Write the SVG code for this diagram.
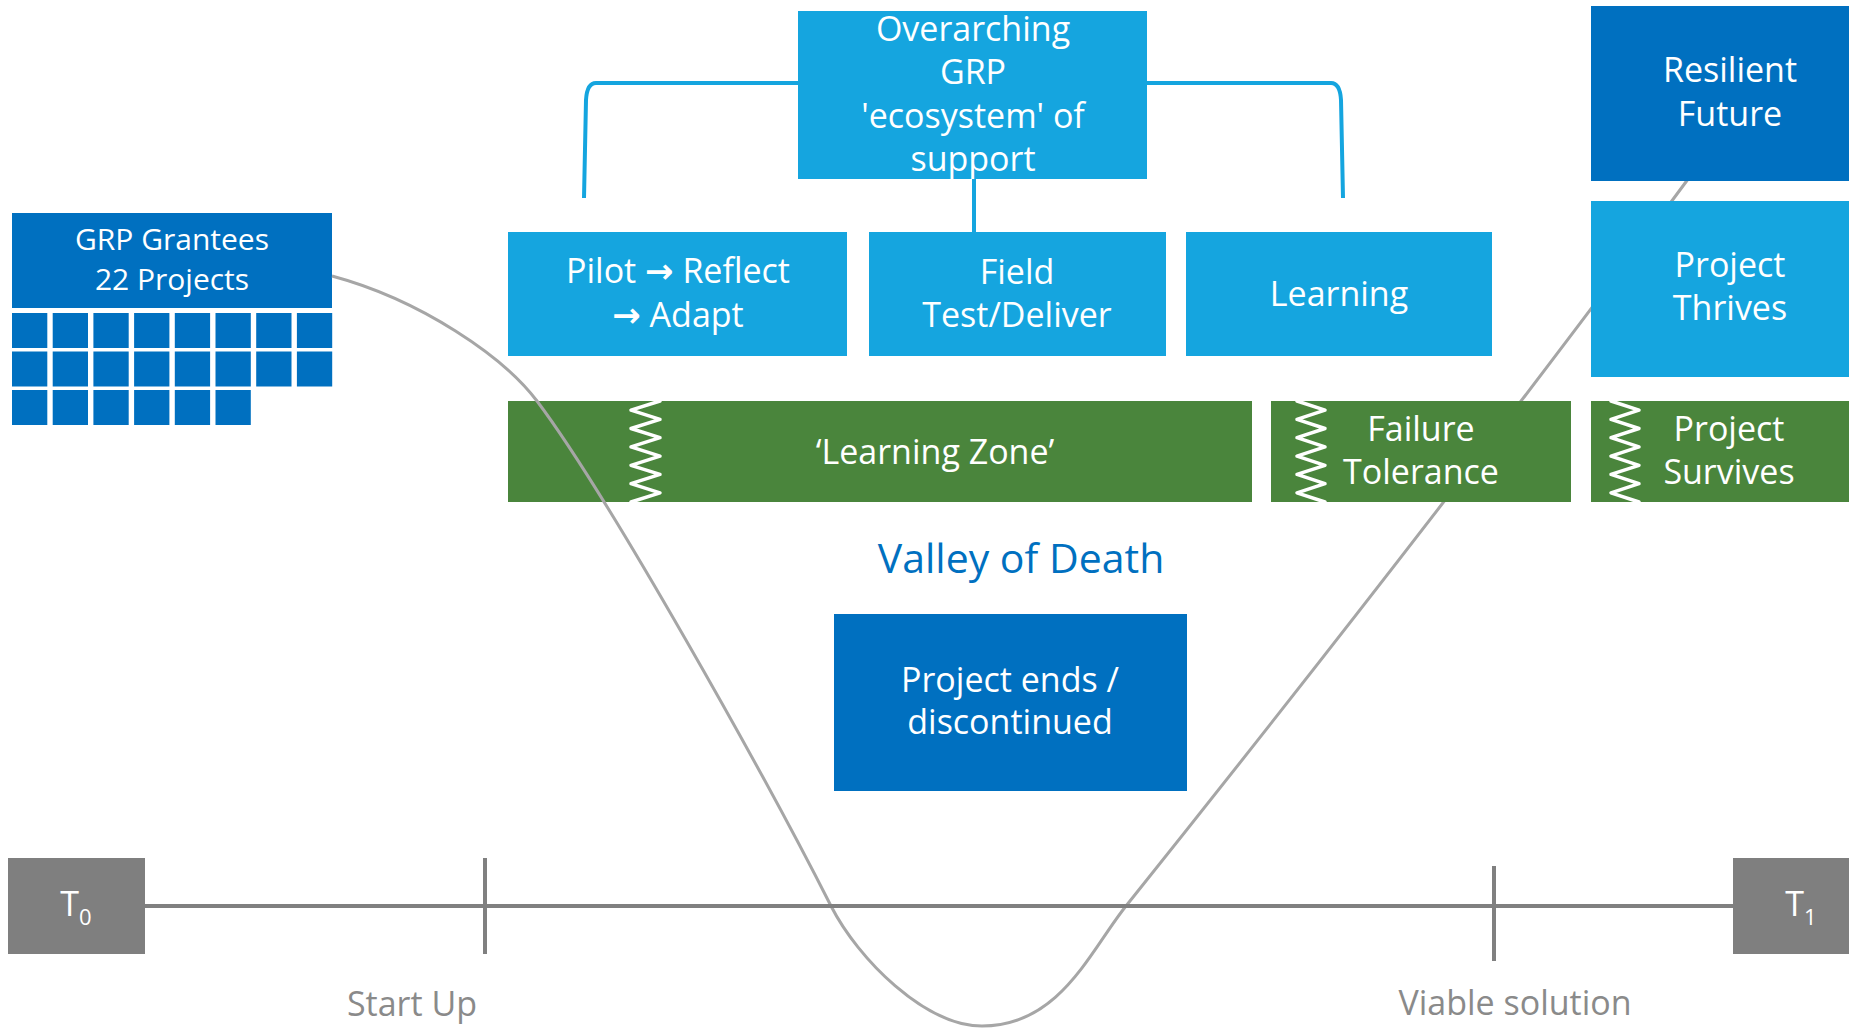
<svg xmlns="http://www.w3.org/2000/svg" width="1849" height="1028" viewBox="0 0 1849 1028">
<style>
  text { font-family: "Open Sans", "Liberation Sans", "DejaVu Sans", sans-serif; }
  .lb { fill: #15A5DF; }
  .db { fill: #0070C0; }
  .gr { fill: #4A853C; }
  .gy { fill: #7F7F7F; }
  .wt { fill: #FFFFFF; font-size: 34px; text-anchor: middle; }
  .arr { font-family: "DejaVu Sans", sans-serif; font-weight: bold; }
  .zz { fill: none; stroke: #FFFFFF; stroke-width: 3.5; stroke-linejoin: round; stroke-linecap: round; }
  .brk { fill: none; stroke: #15A5DF; stroke-width: 4; }
  .curve { fill: none; stroke: #A6A6A6; stroke-width: 3; }
  .axis { fill: none; stroke: #808080; stroke-width: 4; }
  .lbl { fill: #8A8A8A; font-size: 34px; text-anchor: middle; }
</style>
<rect width="1849" height="1028" fill="#FFFFFF"/>

<g id="connectors-top">
  <path class="brk" d="M798,83 H596 Q587,83 586,100 L584,198"/>
  <path class="brk" d="M1147,83 H1331 Q1340,83 1341,100 L1343,198"/>
  <path class="brk" d="M974,179 V232"/>
</g>

<g id="node-overarching">
  <rect class="lb" x="798" y="11" width="349" height="168"/>
  <text class="wt" x="973" y="40.5">Overarching</text>
  <text class="wt" x="973" y="84">GRP</text>
  <text class="wt" x="973" y="127.5">'ecosystem' of</text>
  <text class="wt" x="973" y="171">support</text>
</g>

<g id="node-grantees">
  <rect class="db" x="12" y="213" width="320" height="95"/>
  <text class="wt" x="172" y="250" style="font-size:30px">GRP Grantees</text>
  <text class="wt" x="172" y="290" style="font-size:30px">22 Projects</text>
  <g class="db">
    <rect x="12" y="313" width="35.3" height="35"/><rect x="52.7" y="313" width="35.3" height="35"/><rect x="93.4" y="313" width="35.3" height="35"/><rect x="134.1" y="313" width="35.3" height="35"/><rect x="174.8" y="313" width="35.3" height="35"/><rect x="215.5" y="313" width="35.3" height="35"/><rect x="256.2" y="313" width="35.3" height="35"/><rect x="296.9" y="313" width="35.3" height="35"/>
    <rect x="12" y="351.5" width="35.3" height="35"/><rect x="52.7" y="351.5" width="35.3" height="35"/><rect x="93.4" y="351.5" width="35.3" height="35"/><rect x="134.1" y="351.5" width="35.3" height="35"/><rect x="174.8" y="351.5" width="35.3" height="35"/><rect x="215.5" y="351.5" width="35.3" height="35"/><rect x="256.2" y="351.5" width="35.3" height="35"/><rect x="296.9" y="351.5" width="35.3" height="35"/>
    <rect x="12" y="390" width="35.3" height="35"/><rect x="52.7" y="390" width="35.3" height="35"/><rect x="93.4" y="390" width="35.3" height="35"/><rect x="134.1" y="390" width="35.3" height="35"/><rect x="174.8" y="390" width="35.3" height="35"/><rect x="215.5" y="390" width="35.3" height="35"/>
  </g>
</g>

<g id="node-pilot">
  <rect class="lb" x="508" y="232" width="339" height="124"/>
  <text class="wt" x="678" y="283">Pilot <tspan class="arr">→</tspan> Reflect</text>
  <text class="wt" x="678" y="327"><tspan class="arr">→</tspan> Adapt</text>
</g>

<g id="node-field">
  <rect class="lb" x="869" y="232" width="297" height="124"/>
  <text class="wt" x="1017" y="284">Field</text>
  <text class="wt" x="1017" y="327">Test/Deliver</text>
</g>

<g id="node-learning">
  <rect class="lb" x="1186" y="232" width="306" height="124"/>
  <text class="wt" x="1339" y="306">Learning</text>
</g>

<g id="node-learning-zone">
  <rect class="gr" x="508" y="401" width="744" height="101"/>
  <polyline class="zz" points="660,401 631,410.2 660,419.4 631,428.5 660,437.7 631,446.9 660,456.1 631,465.3 660,474.4 631,483.6 660,492.8 631,502"/>
  <text class="wt" x="935" y="464">‘Learning Zone’</text>
</g>

<g id="connectors">
  <path class="curve" d="M332,276 C421,300 504,357 537,401 C609,497 763,772 831,906 C858,959 925,1026 982,1026 C1060,1026 1090,951 1126,906 C1326,656 1515,413 1700,163"/>
</g>

<g id="node-failure">
  <rect class="gr" x="1271" y="401" width="300" height="101"/>
  <polyline class="zz" points="1297,401 1325,410.2 1297,419.4 1325,428.5 1297,437.7 1325,446.9 1297,456.1 1325,465.3 1297,474.4 1325,483.6 1297,492.8 1325,502"/>
  <text class="wt" x="1421" y="441">Failure</text>
  <text class="wt" x="1421" y="484">Tolerance</text>
</g>

<g id="node-survives">
  <rect class="gr" x="1591" y="401" width="278" height="101"/>
  <polyline class="zz" points="1611,401 1639,410.2 1611,419.4 1639,428.5 1611,437.7 1639,446.9 1611,456.1 1639,465.3 1611,474.4 1639,483.6 1611,492.8 1639,502"/>
  <text class="wt" x="1729" y="441">Project</text>
  <text class="wt" x="1729" y="484">Survives</text>
</g>

<g id="node-thrives">
  <rect class="lb" x="1591" y="201" width="278" height="176"/>
  <text class="wt" x="1730" y="277">Project</text>
  <text class="wt" x="1730" y="320">Thrives</text>
</g>

<g id="node-resilient">
  <rect class="db" x="1591" y="6" width="278" height="175"/>
  <text class="wt" x="1730" y="82">Resilient</text>
  <text class="wt" x="1730" y="126">Future</text>
</g>

<g id="label-valley">
  <text x="1021" y="573" style="font-size:41px; fill:#0070C0; text-anchor:middle">Valley of Death</text>
</g>

<g id="node-ends">
  <rect class="db" x="834" y="614" width="353" height="177"/>
  <text class="wt" x="1010" y="692">Project ends /</text>
  <text class="wt" x="1010" y="734">discontinued</text>
</g>

<g id="timeline">
  <path class="axis" d="M145,906 H1733"/>
  <path class="axis" d="M485,858 V954"/>
  <path class="axis" d="M1494,866 V961"/>
</g>

<g id="node-t0">
  <rect class="gy" x="8" y="858" width="137" height="96"/>
  <text class="wt" x="76" y="916">T<tspan style="font-size:22px" dy="9">0</tspan></text>
</g>

<g id="node-t1">
  <rect class="gy" x="1733" y="858" width="137" height="96"/>
  <text class="wt" x="1801" y="916">T<tspan style="font-size:22px" dy="9">1</tspan></text>
</g>

<g id="label-startup">
  <text class="lbl" x="412" y="1016">Start Up</text>
</g>
<g id="label-viable">
  <text class="lbl" x="1515" y="1015">Viable solution</text>
</g>
</svg>
